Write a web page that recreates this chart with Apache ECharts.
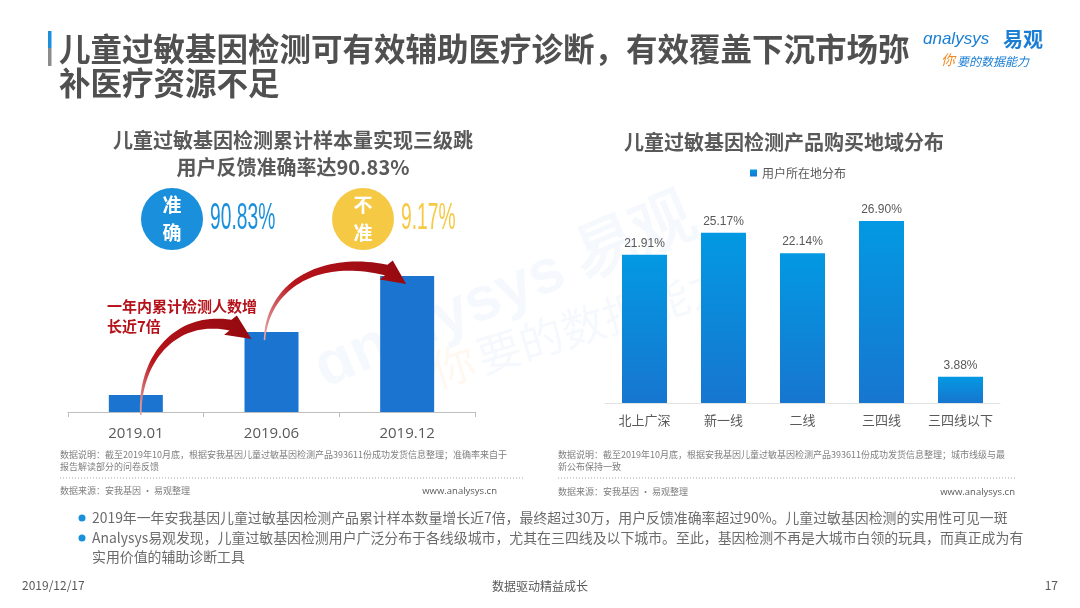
<!DOCTYPE html>
<html>
<head>
<meta charset="utf-8">
<script src="https://cdn.jsdelivr.net/npm/echarts@6/dist/echarts.min.js"></script>
<style>
html,body{margin:0;padding:0;background:#fff;}
#c{width:1080px;height:608px;}
</style>
</head>
<body>
<div id="c"></div>
<script>
// ---------- data ----------
const leftCategories = ['2019.01', '2019.06', '2019.12'];
const leftValues = [5, 23.5, 40];            // cumulative samples (relative, 万)
const rightCategories = ['北上广深', '新一线', '二线', '三四线', '三四线以下'];
const rightValues = [21.91, 25.17, 22.14, 26.90, 3.88];
const rightSeriesName = '用户所在地分布';
const accuracyLabels = ['准\n确', '不\n准'];
const accuracyValues = ['90.83%', '9.17%'];

const CJK = "'Noto Sans CJK SC','Microsoft YaHei',sans-serif";
const chart = echarts.init(document.getElementById('c'), null, {renderer: 'canvas'});

function txt(text, x, y, size, color, opts) {
  opts = opts || {};
  return Object.assign({
    type: 'text', x: x, y: y, z: opts.z === undefined ? 50 : opts.z,
    style: {
      text: text, fill: color, fontSize: size,
      fontFamily: opts.family || CJK, fontWeight: opts.weight || 'normal',
      fontStyle: opts.style || 'normal',
      textAlign: opts.align || 'left', textVerticalAlign: 'middle',
      lineHeight: opts.lineHeight
    }
  }, opts.extra || {});
}

const staticGraphics = [
  // watermark
  txt('ɑnalysys 易观', 318, 372, 62, 'rgba(20,120,200,0.045)', {weight: 'bold', family: "'Liberation Sans',sans-serif", z: 0, extra: {rotation: 0.40}}),
  txt('你', 432, 372, 44, 'rgba(245,150,50,0.07)', {z: 0, extra: {rotation: 0.30}}),
  txt('要的数据能力', 478, 358, 44, 'rgba(20,120,200,0.045)', {z: 0, extra: {rotation: 0.30}}),
  // title bar
  {type: 'rect', z: 50, shape: {x: 48, y: 31, width: 3.5, height: 17}, style: {fill: '#1a8fdb'}},
  {type: 'rect', z: 50, shape: {x: 48, y: 48, width: 3.5, height: 18}, style: {fill: '#8c8c8c'}},
  txt('儿童过敏基因检测可有效辅助医疗诊断，有效覆盖下沉市场弥', 59, 49, 31.5, '#505050', {weight: 'bold'}),
  txt('补医疗资源不足', 59, 83, 31.5, '#505050', {weight: 'bold'}),
  // logo
  txt('ɑnalysys', 923, 39, 17, '#1a7fd4', {style: 'italic', family: "'Liberation Sans',sans-serif"}),
  txt('易观', 1003, 39, 20, '#1a7fd4', {weight: 'bold'}),
  txt('你', 941, 60, 14, '#f08a24', {style: 'italic'}),
  txt('要的数据能力', 957, 61, 12, '#1a7fd4', {style: 'italic'}),
  // left subtitle
  txt('儿童过敏基因检测累计样本量实现三级跳', 293, 140, 20, '#595959', {weight: 'bold', align: 'center'}),
  txt('用户反馈准确率达90.83%', 293, 167, 20, '#595959', {weight: 'bold', align: 'center'}),
  // accuracy circles
  {type: 'circle', z: 50, shape: {cx: 172, cy: 219, r: 31}, style: {fill: '#1a8fdb'}},
  txt(accuracyLabels[0], 172, 219, 19, '#ffffff', {weight: 'bold', align: 'center', lineHeight: 28}),
  txt(accuracyValues[0], 210, 219, 37, '#1a8fdb', {family: "'Liberation Sans Narrow','Liberation Sans',sans-serif", extra: {scaleX: 0.52}}),
  {type: 'circle', z: 50, shape: {cx: 363, cy: 219, r: 31}, style: {fill: '#f6c945'}},
  txt(accuracyLabels[1], 363, 219, 19, '#ffffff', {weight: 'bold', align: 'center', lineHeight: 28}),
  txt(accuracyValues[1], 401, 219, 37, '#f6c945', {family: "'Liberation Sans Narrow','Liberation Sans',sans-serif", extra: {scaleX: 0.52}}),
  // red annotation
  txt('一年内累计检测人数增', 107, 306, 15, '#b5121b', {weight: 'bold'}),
  txt('长近7倍', 107, 326, 15, '#b5121b', {weight: 'bold'}),
  // right subtitle
  txt('儿童过敏基因检测产品购买地域分布', 784, 142, 20, '#595959', {weight: 'bold', align: 'center'}),
  // left notes
  txt('数据说明：截至2019年10月底，根据安我基因儿童过敏基因检测产品393611份成功发货信息整理；准确率来自于', 60, 455, 9, '#7f7f7f'),
  txt('报告解读部分的问卷反馈', 60, 467, 9, '#7f7f7f'),
  {type: 'line', z: 50, shape: {x1: 60, y1: 478, x2: 525, y2: 478}, style: {stroke: '#a6a6a6', lineWidth: 1, lineDash: [1, 2]}},
  txt('数据来源：安我基因 · 易观整理', 60, 491, 9, '#7f7f7f'),
  txt('www.analysys.cn', 497, 491, 9.5, '#595959', {align: 'right', family: "'Open Sans','Liberation Sans',sans-serif"}),
  // right notes
  txt('数据说明：截至2019年10月底，根据安我基因儿童过敏基因检测产品393611份成功发货信息整理；城市线级与最', 558, 455, 9, '#7f7f7f'),
  txt('新公布保持一致', 558, 467, 9, '#7f7f7f'),
  {type: 'line', z: 50, shape: {x1: 558, y1: 478, x2: 1015, y2: 478}, style: {stroke: '#a6a6a6', lineWidth: 1, lineDash: [1, 2]}},
  txt('数据来源：安我基因 · 易观整理', 558, 492, 9, '#7f7f7f'),
  txt('www.analysys.cn', 1015, 492, 9.5, '#595959', {align: 'right', family: "'Open Sans','Liberation Sans',sans-serif"}),
  // bullets
  {type: 'circle', z: 50, shape: {cx: 82, cy: 518, r: 3.5}, style: {fill: '#1a8fdb'}},
  {type: 'circle', z: 50, shape: {cx: 82, cy: 538, r: 3.5}, style: {fill: '#1a8fdb'}},
  txt('2019年一年安我基因儿童过敏基因检测产品累计样本数量增长近7倍，最终超过30万，用户反馈准确率超过90%。儿童过敏基因检测的实用性可见一斑', 92, 518, 13.9, '#6b6b6b'),
  txt('Analysys易观发现，儿童过敏基因检测用户广泛分布于各线级城市，尤其在三四线及以下城市。至此，基因检测不再是大城市白领的玩具，而真正成为有', 92, 538, 13.9, '#6b6b6b'),
  txt('实用价值的辅助诊断工具', 92, 557, 13.9, '#6b6b6b'),
  // footer
  txt('2019/12/17', 22, 585, 12, '#595959'),
  txt('数据驱动精益成长', 540, 586, 12, '#595959', {align: 'center'}),
  txt('17', 1058, 585, 12, '#595959', {align: 'right'})
];

const option = {
  animation: false,
  backgroundColor: '#ffffff',
  legend: {
    data: [rightSeriesName], left: 745, top: 162, icon: 'rect', itemWidth: 7, itemHeight: 7, itemGap: 4,
    textStyle: {fontSize: 12, color: '#595959', fontFamily: CJK}
  },
  grid: [
    {left: 68, right: 605, top: 276, bottom: 196},
    {left: 605, right: 80, top: 200, bottom: 205}
  ],
  xAxis: [
    {gridIndex: 0, type: 'category', data: leftCategories,
     axisLine: {lineStyle: {color: '#bfbfbf', width: 1}},
     axisTick: {show: true, length: 5, lineStyle: {color: '#bfbfbf'}},
     axisLabel: {interval: 0, fontSize: 15, color: '#595959', margin: 14, fontFamily: "'Open Sans','Noto Sans CJK SC',sans-serif"}},
    {gridIndex: 1, type: 'category', data: rightCategories,
     axisLine: {lineStyle: {color: '#e3e3e3', width: 1}},
     axisTick: {show: false},
     axisLabel: {interval: 0, fontSize: 13, color: '#595959', margin: 11, fontFamily: CJK}}
  ],
  yAxis: [
    {gridIndex: 0, type: 'value', min: 0, max: 40, show: false, splitLine: {show: false}},
    {gridIndex: 1, type: 'value', min: 0, max: 30, show: false, splitLine: {show: false}}
  ],
  series: [
    {type: 'bar', name: 'left', xAxisIndex: 0, yAxisIndex: 0, data: leftValues, barWidth: 54,
     itemStyle: {color: '#1b75d0'}},
    {type: 'bar', name: rightSeriesName, xAxisIndex: 1, yAxisIndex: 1, data: rightValues, barWidth: 45,
     itemStyle: {color: new echarts.graphic.LinearGradient(0, 0, 0, 1, [
       {offset: 0, color: '#0399e2'}, {offset: 1, color: '#1776cf'}])},
     label: {show: true, position: 'top', distance: 5, fontSize: 12, color: '#595959',
       fontFamily: "'Liberation Sans',sans-serif",
       formatter: p => p.value.toFixed(2) + '%'}}
  ],
  graphic: {elements: staticGraphics}
};
chart.setOption(option);

// ---------- swoosh arrows anchored to bars ----------
function cubicPt(P, t) {
  const u = 1 - t;
  return [u*u*u*P[0][0] + 3*u*u*t*P[1][0] + 3*u*t*t*P[2][0] + t*t*t*P[3][0],
          u*u*u*P[0][1] + 3*u*u*t*P[1][1] + 3*u*t*t*P[2][1] + t*t*t*P[3][1]];
}
function cubicTan(P, t) {
  const u = 1 - t;
  const dx = 3*u*u*(P[1][0]-P[0][0]) + 6*u*t*(P[2][0]-P[1][0]) + 3*t*t*(P[3][0]-P[2][0]);
  const dy = 3*u*u*(P[1][1]-P[0][1]) + 6*u*t*(P[2][1]-P[1][1]) + 3*t*t*(P[3][1]-P[2][1]);
  const l = Math.hypot(dx, dy) || 1;
  return [dx/l, dy/l];
}
function swoosh(P, tip, w0, w1, headW) {
  const N = 40, L = [], R = [];
  for (let i = 0; i <= N; i++) {
    const t = i / N, p = cubicPt(P, t), d = cubicTan(P, t);
    const w = (w0 + (w1 - w0) * Math.pow(t, 1.1)) / 2;
    L.push([p[0] - d[1]*w, p[1] + d[0]*w]);
    R.push([p[0] + d[1]*w, p[1] - d[0]*w]);
  }
  const b = P[3];
  let hx = tip[0] - b[0], hy = tip[1] - b[1];
  const hl = Math.hypot(hx, hy); hx /= hl; hy /= hl;
  const hw = headW / 2;
  const pts = L.concat([[b[0] - hy*hw, b[1] + hx*hw], tip, [b[0] + hy*hw, b[1] - hx*hw]]).concat(R.reverse());
  return {
    type: 'polygon', z: 60, shape: {points: pts},
    style: {fill: new echarts.graphic.LinearGradient(P[0][0], P[0][1], tip[0], tip[1], [
      {offset: 0, color: '#e7a5a5'}, {offset: 0.3, color: '#b8141b'}, {offset: 1, color: '#960a10'}], true)}
  };
}
const px = (i, v) => chart.convertToPixel({gridIndex: 0}, [i, v]);
const b1 = px(0, leftValues[0]), b2 = px(1, leftValues[1]), b3 = px(2, leftValues[2]);
const base = px(0, 0)[1];
const arrow1 = swoosh(
  [[b1[0] + 5, base + 3], [b1[0] + 3, base - 52], [b1[0] + 39, b2[1] - 17], [b2[0] - 41, b2[1] - 7]],
  [b2[0] - 20, b2[1] + 7], 1.5, 11, 23);
const arrow2 = swoosh(
  [[b2[0] - 7, b2[1] + 8], [b2[0] - 4, b2[1] - 47], [b2[0] + 48, b3[1] - 21], [b3[0] - 21, b3[1] - 6]],
  [b3[0] - 1, b3[1] + 8], 1.5, 11, 23);
chart.setOption({graphic: {elements: staticGraphics.concat([arrow1, arrow2])}}, {replaceMerge: ['graphic']});
</script>
</body>
</html>
